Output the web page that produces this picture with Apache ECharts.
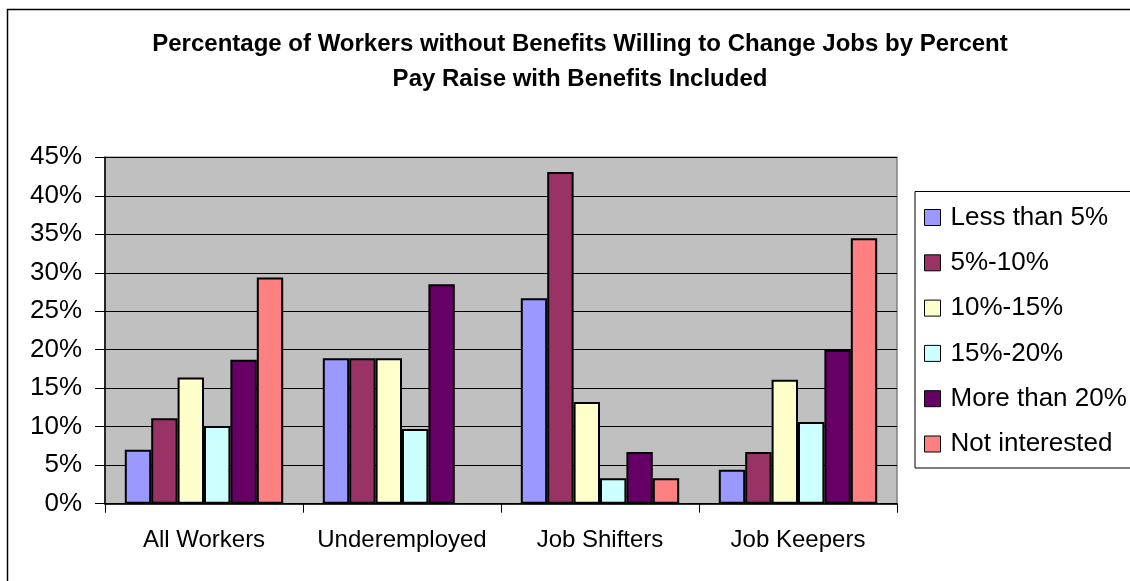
<!DOCTYPE html>
<html>
<head>
<meta charset="utf-8">
<script src="https://cdn.jsdelivr.net/npm/echarts@6/dist/echarts.min.js"></script>
<style>
html,body{margin:0;padding:0;background:#fff;}
#chart{width:1130px;height:581px;}
</style>
</head>
<body>
<div id="chart"></div>
<script>
const categories = ['All Workers', 'Underemployed', 'Job Shifters', 'Job Keepers'];
const seriesNames = ['Less than 5%', '5%-10%', '10%-15%', '15%-20%', 'More than 20%', 'Not interested'];
const lessThan5 = [7.0, 18.9, 26.7, 4.4];
const from5to10 = [11.1, 18.9, 43.1, 6.7];
const from10to15 = [16.4, 18.9, 13.2, 16.1];
const from15to20 = [10.1, 9.7, 3.3, 10.6];
const moreThan20 = [18.7, 28.5, 6.7, 20.0];
const notInterested = [29.4, null, 3.3, 34.5];
const yTicks = [0, 5, 10, 15, 20, 25, 30, 35, 40, 45];

const seriesData = [lessThan5, from5to10, from10to15, from15to20, moreThan20, notInterested];
const colors = ['#9999FF', '#993366', '#FFFFCC', '#CCFFFF', '#660066', '#FF8080'];
const FONT = '"Liberation Sans", Arial, sans-serif';

const chart = echarts.init(document.getElementById('chart'));
chart.setOption({
  animation: false,
  backgroundColor: '#ffffff',
  title: {
    text: 'Percentage of Workers without Benefits Willing to Change Jobs by Percent\nPay Raise with Benefits Included',
    left: 575,
    top: 22,
    textAlign: 'center',
    textStyle: { fontFamily: FONT, fontSize: 24, fontWeight: 'bold', color: '#000', lineHeight: 35 }
  },
  graphic: [{
    type: 'rect',
    shape: { x: 7.5, y: 9.5, width: 1140, height: 600 },
    style: { fill: 'none', stroke: '#000', lineWidth: 1.5 },
    silent: true, z: -1
  }],
  legend: {
    orient: 'vertical',
    left: 915,
    top: 191.5,
    padding: [13, 40, 11, 9],
    itemWidth: 16,
    itemHeight: 16,
    itemGap: 19.3,
    borderColor: '#000',
    borderWidth: 1,
    icon: 'rect',
    itemStyle: { borderColor: '#000', borderWidth: 1 },
    textStyle: { fontFamily: FONT, fontSize: 26, color: '#000', lineHeight: 26, padding: [0, 0, 0, 5] },
    data: seriesNames
  },
  grid: {
    left: 105, right: 233, top: 157.3, bottom: 77.3,
    show: true, backgroundColor: '#C0C0C0', borderColor: '#808080', borderWidth: 1.5
  },
  xAxis: {
    type: 'category',
    data: categories,
    axisLine: { show: true, lineStyle: { color: '#000', width: 1.5 } },
    axisTick: { show: true, length: 9, lineStyle: { color: '#000', width: 1 } },
    axisLabel: { fontFamily: FONT, fontSize: 24, color: '#000', margin: 25, interval: 0 }
  },
  yAxis: {
    type: 'value',
    min: yTicks[0], max: yTicks[yTicks.length - 1], interval: 5,
    axisLine: { show: true, lineStyle: { color: '#000', width: 1.5 } },
    axisTick: { show: true, length: 10, lineStyle: { color: '#000', width: 1 } },
    axisLabel: { fontFamily: FONT, fontSize: 26, color: '#000', margin: 23, formatter: '{value}%' },
    splitLine: { show: true, lineStyle: { color: '#000', width: 1 } }
  },
  series: seriesNames.map((name, i) => ({
    name: name,
    type: 'bar',
    data: seriesData[i],
    barGap: '0%',
    barCategoryGap: '20%',
    itemStyle: { color: colors[i], borderColor: '#000', borderWidth: 2 }
  }))
});
</script>
</body>
</html>
